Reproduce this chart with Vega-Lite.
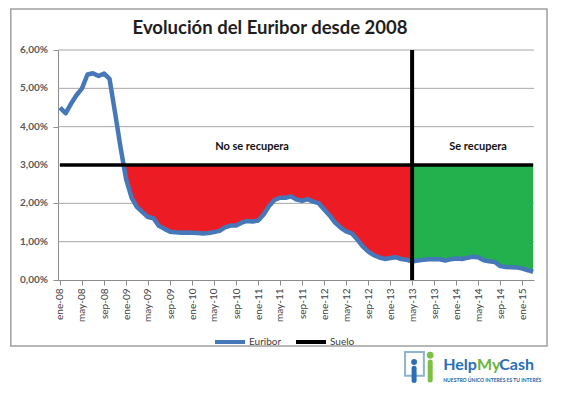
{
  "$schema": "https://vega.github.io/schema/vega-lite/v6.json",
  "width": 476,
  "height": 230,
  "autosize": {"type": "none"},
  "padding": {"left": 58, "top": 50, "right": 36, "bottom": 115},
  "background": "white",
  "config": {"view": {"stroke": null}, "font": "Lato"},
  "title": {"text": "Evolución del Euribor desde 2008", "fontSize": 18.5, "font": "Lato", "fontWeight": "bold", "color": "#1e1e1e", "anchor": "middle", "frame": "group", "dx": -26, "offset": -29},
  "datasets": {
    "euribor": [
      {"date": "2008-01-01T00:00", "value": 4.498, "suelo": 3}, {"date": "2008-02-01T00:00", "value": 4.349, "suelo": 3}, {"date": "2008-03-01T00:00", "value": 4.590, "suelo": 3}, {"date": "2008-04-01T00:00", "value": 4.820, "suelo": 3}, {"date": "2008-05-01T00:00", "value": 4.994, "suelo": 3}, {"date": "2008-06-01T00:00", "value": 5.361, "suelo": 3}, {"date": "2008-07-01T00:00", "value": 5.393, "suelo": 3}, {"date": "2008-08-01T00:00", "value": 5.323, "suelo": 3}, {"date": "2008-09-01T00:00", "value": 5.384, "suelo": 3}, {"date": "2008-10-01T00:00", "value": 5.248, "suelo": 3}, {"date": "2008-11-01T00:00", "value": 4.350, "suelo": 3}, {"date": "2008-12-01T00:00", "value": 3.452, "suelo": 3},
      {"date": "2008-12-18T00:00", "value": 3.0, "suelo": 3},
      {"date": "2009-01-01T00:00", "value": 2.622, "suelo": 3}, {"date": "2009-02-01T00:00", "value": 2.135, "suelo": 3}, {"date": "2009-03-01T00:00", "value": 1.909, "suelo": 3}, {"date": "2009-04-01T00:00", "value": 1.771, "suelo": 3}, {"date": "2009-05-01T00:00", "value": 1.644, "suelo": 3}, {"date": "2009-06-01T00:00", "value": 1.610, "suelo": 3}, {"date": "2009-07-01T00:00", "value": 1.412, "suelo": 3}, {"date": "2009-08-01T00:00", "value": 1.334, "suelo": 3}, {"date": "2009-09-01T00:00", "value": 1.261, "suelo": 3}, {"date": "2009-10-01T00:00", "value": 1.243, "suelo": 3}, {"date": "2009-11-01T00:00", "value": 1.231, "suelo": 3}, {"date": "2009-12-01T00:00", "value": 1.242, "suelo": 3},
      {"date": "2010-01-01T00:00", "value": 1.232, "suelo": 3}, {"date": "2010-02-01T00:00", "value": 1.225, "suelo": 3}, {"date": "2010-03-01T00:00", "value": 1.215, "suelo": 3}, {"date": "2010-04-01T00:00", "value": 1.225, "suelo": 3}, {"date": "2010-05-01T00:00", "value": 1.249, "suelo": 3}, {"date": "2010-06-01T00:00", "value": 1.281, "suelo": 3}, {"date": "2010-07-01T00:00", "value": 1.373, "suelo": 3}, {"date": "2010-08-01T00:00", "value": 1.421, "suelo": 3}, {"date": "2010-09-01T00:00", "value": 1.420, "suelo": 3}, {"date": "2010-10-01T00:00", "value": 1.495, "suelo": 3}, {"date": "2010-11-01T00:00", "value": 1.541, "suelo": 3}, {"date": "2010-12-01T00:00", "value": 1.526, "suelo": 3},
      {"date": "2011-01-01T00:00", "value": 1.550, "suelo": 3}, {"date": "2011-02-01T00:00", "value": 1.714, "suelo": 3}, {"date": "2011-03-01T00:00", "value": 1.924, "suelo": 3}, {"date": "2011-04-01T00:00", "value": 2.086, "suelo": 3}, {"date": "2011-05-01T00:00", "value": 2.147, "suelo": 3}, {"date": "2011-06-01T00:00", "value": 2.144, "suelo": 3}, {"date": "2011-07-01T00:00", "value": 2.183, "suelo": 3}, {"date": "2011-08-01T00:00", "value": 2.097, "suelo": 3}, {"date": "2011-09-01T00:00", "value": 2.067, "suelo": 3}, {"date": "2011-10-01T00:00", "value": 2.110, "suelo": 3}, {"date": "2011-11-01T00:00", "value": 2.044, "suelo": 3}, {"date": "2011-12-01T00:00", "value": 2.004, "suelo": 3},
      {"date": "2012-01-01T00:00", "value": 1.837, "suelo": 3}, {"date": "2012-02-01T00:00", "value": 1.678, "suelo": 3}, {"date": "2012-03-01T00:00", "value": 1.499, "suelo": 3}, {"date": "2012-04-01T00:00", "value": 1.368, "suelo": 3}, {"date": "2012-05-01T00:00", "value": 1.266, "suelo": 3}, {"date": "2012-06-01T00:00", "value": 1.219, "suelo": 3}, {"date": "2012-07-01T00:00", "value": 1.061, "suelo": 3}, {"date": "2012-08-01T00:00", "value": 0.877, "suelo": 3}, {"date": "2012-09-01T00:00", "value": 0.740, "suelo": 3}, {"date": "2012-10-01T00:00", "value": 0.650, "suelo": 3}, {"date": "2012-11-01T00:00", "value": 0.588, "suelo": 3}, {"date": "2012-12-01T00:00", "value": 0.549, "suelo": 3},
      {"date": "2013-01-01T00:00", "value": 0.575, "suelo": 3}, {"date": "2013-02-01T00:00", "value": 0.594, "suelo": 3}, {"date": "2013-03-01T00:00", "value": 0.545, "suelo": 3}, {"date": "2013-04-01T00:00", "value": 0.528, "suelo": 3}, {"date": "2013-05-01T00:00", "value": 0.484, "suelo": 3}, {"date": "2013-06-01T00:00", "value": 0.507, "suelo": 3}, {"date": "2013-07-01T00:00", "value": 0.525, "suelo": 3}, {"date": "2013-08-01T00:00", "value": 0.542, "suelo": 3}, {"date": "2013-09-01T00:00", "value": 0.543, "suelo": 3}, {"date": "2013-10-01T00:00", "value": 0.541, "suelo": 3}, {"date": "2013-11-01T00:00", "value": 0.506, "suelo": 3}, {"date": "2013-12-01T00:00", "value": 0.543, "suelo": 3},
      {"date": "2014-01-01T00:00", "value": 0.562, "suelo": 3}, {"date": "2014-02-01T00:00", "value": 0.549, "suelo": 3}, {"date": "2014-03-01T00:00", "value": 0.577, "suelo": 3}, {"date": "2014-04-01T00:00", "value": 0.604, "suelo": 3}, {"date": "2014-05-01T00:00", "value": 0.592, "suelo": 3}, {"date": "2014-06-01T00:00", "value": 0.513, "suelo": 3}, {"date": "2014-07-01T00:00", "value": 0.488, "suelo": 3}, {"date": "2014-08-01T00:00", "value": 0.469, "suelo": 3}, {"date": "2014-09-01T00:00", "value": 0.362, "suelo": 3}, {"date": "2014-10-01T00:00", "value": 0.338, "suelo": 3}, {"date": "2014-11-01T00:00", "value": 0.335, "suelo": 3}, {"date": "2014-12-01T00:00", "value": 0.329, "suelo": 3},
      {"date": "2015-01-01T00:00", "value": 0.298, "suelo": 3}, {"date": "2015-02-01T00:00", "value": 0.255, "suelo": 3}, {"date": "2015-03-01T00:00", "value": 0.212, "suelo": 3}
    ],
    "zones": [
      {"label": "No se recupera", "date": "2010-11-28T00:00", "value": 3.47},
      {"label": "Se recupera", "date": "2014-05-01T00:00", "value": 3.47}
    ],
    "grid": [{"g": 1}, {"g": 2}, {"g": 3}, {"g": 4}, {"g": 5}, {"g": 6}],
    "ylabels": [
      {"g": 0, "label": "0,00%"}, {"g": 1, "label": "1,00%"}, {"g": 2, "label": "2,00%"}, {"g": 3, "label": "3,00%"},
      {"g": 4, "label": "4,00%"}, {"g": 5, "label": "5,00%"}, {"g": 6, "label": "6,00%"}
    ],
    "one": [{}]
  },
  "resolve": {"scale": {"x": "independent", "y": "independent"}},
  "layer": [
    {
      "layer": [
        {
          "data": {"name": "euribor", "format": {"parse": {"date": "date"}}},
          "mark": {"type": "line", "strokeWidth": 4.5, "strokeJoin": "round"},
          "encoding": {
            "x": {
              "field": "date", "type": "temporal",
              "scale": {"domain": [{"year": 2007, "month": 12, "date": 21}, {"year": 2015, "month": 3, "date": 6}]},
              "axis": {
                "title": null, "labelAngle": -90, "grid": false,
                "tickCount": {"interval": "month", "step": 4},
                "labelExpr": "['ene','feb','mar','abr','may','jun','jul','ago','sep','oct','nov','dic'][month(datum.value)] + '-' + timeFormat(datum.value, '%y')",
                "domainColor": "#8c8c8c", "tickColor": "#8c8c8c", "tickSize": 5,
                "labelFontSize": 10, "labelColor": "#404040", "labelPadding": 3,
                "labelFlush": false, "labelOverlap": false
              }
            },
            "y": {
              "field": "value", "type": "quantitative",
              "scale": {"domain": [0, 6], "nice": false},
              "axis": {
                "title": null, "values": [0, 1, 2, 3, 4, 5, 6], "grid": false,
                "labelExpr": "''",
                "domainColor": "#8c8c8c", "tickColor": "#8c8c8c", "tickSize": 5
              }
            },
            "opacity": {"value": 0}
          }
        },
        {
          "data": {"name": "grid"},
          "mark": {"type": "rule", "color": "#a6a6a6", "strokeWidth": 1},
          "encoding": {
            "y": {"field": "g", "type": "quantitative"}
          }
        },
        {
          "data": {"name": "ylabels"},
          "mark": {"type": "text", "fontSize": 10, "fontWeight": "bold", "color": "#595959", "align": "right", "baseline": "middle", "dx": -10, "clip": false},
          "encoding": {
            "x": {"datum": {"year": 2007, "month": 12, "date": 21}, "type": "temporal"},
            "y": {"field": "g", "type": "quantitative"},
            "text": {"field": "label"}
          }
        },
        {
          "data": {"name": "euribor", "format": {"parse": {"date": "date"}}},
          "transform": [{"filter": "time(datum.date) >= time(datetime(2008, 11, 18)) && time(datum.date) <= time(datetime(2013, 4, 1))"}],
          "mark": {"type": "area", "color": "#ED1C24"},
          "encoding": {
            "x": {"field": "date", "type": "temporal"},
            "y": {"field": "value", "type": "quantitative"},
            "y2": {"field": "suelo"}
          }
        },
        {
          "data": {"name": "euribor", "format": {"parse": {"date": "date"}}},
          "transform": [{"filter": "time(datum.date) >= time(datetime(2013, 4, 1))"}],
          "mark": {"type": "area", "color": "#22B14C"},
          "encoding": {
            "x": {"field": "date", "type": "temporal"},
            "y": {"field": "value", "type": "quantitative"},
            "y2": {"field": "suelo"}
          }
        },
        {
          "data": {"name": "euribor", "format": {"parse": {"date": "date"}}},
          "mark": {"type": "line", "strokeWidth": 4.5, "strokeJoin": "round"},
          "encoding": {
            "x": {"field": "date", "type": "temporal"},
            "y": {"field": "value", "type": "quantitative"},
            "color": {
              "datum": "Euribor",
              "scale": {"domain": ["Euribor", "Suelo"], "range": ["#4677b8", "#000000"]},
              "legend": {
                "orient": "none", "legendX": 155, "legendY": 275, "direction": "horizontal", "title": null,
                "symbolType": "stroke", "symbolSize": 900, "symbolStrokeWidth": 4,
                "labelFontSize": 10, "labelColor": "#404040", "labelOffset": 2, "columnPadding": 6
              }
            }
          }
        },
        {
          "data": {"name": "zones", "format": {"parse": {"date": "date"}}},
          "mark": {"type": "text", "fontSize": 11, "fontWeight": "bold", "color": "#111111", "baseline": "middle"},
          "encoding": {
            "x": {"field": "date", "type": "temporal"},
            "y": {"field": "value", "type": "quantitative"},
            "text": {"field": "label"}
          }
        }
      ]
    },
    {
      "data": {"name": "one"},
      "layer": [
        {
          "mark": {"type": "rule", "strokeWidth": 3.5},
          "encoding": {
            "x": {"datum": {"year": 2008, "month": 1, "date": 1}, "type": "temporal", "axis": null,
                  "scale": {"domain": [{"year": 2007, "month": 12, "date": 21}, {"year": 2015, "month": 3, "date": 6}]}},
            "x2": {"datum": {"year": 2015, "month": 3, "date": 1}},
            "y": {"datum": 3, "type": "quantitative", "axis": null, "scale": {"domain": [0, 6], "nice": false}},
            "color": {"datum": "Suelo"}
          }
        },
        {
          "mark": {"type": "rule", "strokeWidth": 4, "color": "#000000"},
          "encoding": {
            "x": {"datum": {"year": 2013, "month": 5, "date": 1}, "type": "temporal", "axis": null},
            "y": {"datum": 0, "type": "quantitative", "axis": null},
            "y2": {"datum": 6}
          }
        },
        {
          "mark": {"type": "rect", "fill": null, "stroke": "#a0a0a0", "strokeWidth": 1.5, "clip": false},
          "encoding": {
            "x": {"datum": {"year": 2007, "month": 4, "date": 4}, "type": "temporal", "axis": null},
            "x2": {"datum": {"year": 2015, "month": 5, "date": 17}},
            "y": {"datum": -1.72, "type": "quantitative", "axis": null},
            "y2": {"datum": 7.07}
          }
        },
        {
          "mark": {"type": "rect", "fill": null, "stroke": "#8fb3d0", "strokeWidth": 2, "clip": false},
          "encoding": {
            "x": {"datum": {"year": 2013, "month": 3, "date": 23}, "type": "temporal", "axis": null},
            "x2": {"datum": {"year": 2013, "month": 7, "date": 5}},
            "y": {"datum": -1.88, "type": "quantitative", "axis": null},
            "y2": {"datum": -2.5}
          }
        },
        {
          "mark": {"type": "rule", "strokeWidth": 5, "color": "#7ac143", "strokeCap": "round", "clip": false},
          "encoding": {
            "x": {"datum": {"year": 2013, "month": 8, "date": 9}, "type": "temporal", "axis": null},
            "y": {"datum": -2.14, "type": "quantitative", "axis": null},
            "y2": {"datum": -2.61}
          }
        },
        {
          "mark": {"type": "point", "filled": true, "size": 45, "color": "#7ac143", "opacity": 1, "clip": false},
          "encoding": {
            "x": {"datum": {"year": 2013, "month": 8, "date": 9}, "type": "temporal", "axis": null},
            "y": {"datum": -1.96, "type": "quantitative", "axis": null}
          }
        },
        {
          "mark": {"type": "rule", "strokeWidth": 5, "color": "#2a6fb5", "strokeCap": "round", "clip": false},
          "encoding": {
            "x": {"datum": {"year": 2013, "month": 5, "date": 12}, "type": "temporal", "axis": null},
            "y": {"datum": -2.3, "type": "quantitative", "axis": null},
            "y2": {"datum": -2.62}
          }
        },
        {
          "mark": {"type": "point", "filled": true, "size": 35, "color": "#2a6fb5", "opacity": 1, "clip": false},
          "encoding": {
            "x": {"datum": {"year": 2013, "month": 5, "date": 12}, "type": "temporal", "axis": null},
            "y": {"datum": -2.14, "type": "quantitative", "axis": null}
          }
        },
        {
          "mark": {"type": "text", "fontSize": 16, "fontWeight": "bold", "color": "#2a6fb5", "align": "left", "baseline": "middle", "clip": false},
          "encoding": {
            "x": {"datum": {"year": 2013, "month": 10, "date": 20}, "type": "temporal", "axis": null},
            "y": {"datum": -2.22, "type": "quantitative", "axis": null},
            "text": {"value": "Help"}
          }
        },
        {
          "mark": {"type": "text", "fontSize": 16, "fontWeight": "bold", "color": "#6ab53a", "align": "left", "baseline": "middle", "clip": false},
          "encoding": {
            "x": {"datum": {"year": 2014, "month": 4, "date": 25}, "type": "temporal", "axis": null},
            "y": {"datum": -2.22, "type": "quantitative", "axis": null},
            "text": {"value": "My"}
          }
        },
        {
          "mark": {"type": "text", "fontSize": 16, "fontWeight": "bold", "color": "#2a6fb5", "align": "left", "baseline": "middle", "clip": false},
          "encoding": {
            "x": {"datum": {"year": 2014, "month": 8, "date": 26}, "type": "temporal", "axis": null},
            "y": {"datum": -2.22, "type": "quantitative", "axis": null},
            "text": {"value": "Cash"}
          }
        },
        {
          "mark": {"type": "text", "fontSize": 5, "fontWeight": "bold", "color": "#2a5f9e", "align": "left", "baseline": "middle", "clip": false},
          "encoding": {
            "x": {"datum": {"year": 2013, "month": 10, "date": 20}, "type": "temporal", "axis": null},
            "y": {"datum": -2.61, "type": "quantitative", "axis": null},
            "text": {"value": "NUESTRO ÚNICO INTERÉS ES TU INTERÉS"}
          }
        }
      ]
    }
  ]
}
